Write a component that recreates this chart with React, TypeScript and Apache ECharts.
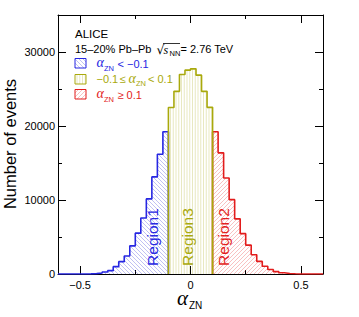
import React, { useEffect, useRef } from 'react';
import * as echarts from 'echarts';

// ---- data ----
const BIN_WIDTH = 0.025;
const region1Start = -0.6;
const region1Values = [0, 0, 2, 5, 10, 20, 45, 135, 270, 450, 990, 1670, 2440, 3800, 5520, 7560, 10150, 13120, 16190, 19220];
const region3Start = -0.1;
const region3Values = [22500, 24680, 26950, 27550, 27720, 26870, 24680, 22520];
const region2Start = 0.1;
const region2Values = [19220, 16370, 12980, 10050, 7450, 5450, 3900, 2600, 1700, 1050, 600, 320, 160, 70, 30, 10, 4, 0, 0, 0];

const xMajorTicks = [-0.5, 0, 0.5];
const xMinorTicks = [-0.25, 0.25];
const yMajorTicks = [0, 10000, 20000, 30000];
const yMinorTicks = [5000, 15000, 25000];

// ---- style ----
const FONT = '"Liberation Sans", Arial, Helvetica, sans-serif';
const SERIF = '"Liberation Serif", "Times New Roman", serif';
const BLUE = '#2626e2';
const OLIVE = '#a9a90c';
const RED = '#e21c1c';
const BLUE_HATCH = 'rgba(70,70,220,0.38)';
const OLIVE_HATCH = 'rgba(175,175,40,0.32)';
const RED_HATCH = 'rgba(235,70,70,0.38)';

type Kind = 'back' | 'fwd' | 'vert';

function hatchLines(x0: number, y0: number, x1: number, y1: number, kind: Kind, color: string): any[] {
  const out: any[] = [];
  const style = { stroke: color, lineWidth: 0.9 };
  if (y1 - y0 < 0.5 || x1 - x0 < 0.5) return out;
  if (kind === 'vert') {
    const s = 2.75;
    for (let x = Math.ceil(x0 / s) * s; x <= x1; x += s) {
      out.push({ type: 'line', shape: { x1: x, y1: y0, x2: x, y2: y1 }, style });
    }
  } else if (kind === 'fwd') {
    const s = 4;
    for (let c = Math.ceil((x0 + y0) / s) * s; c <= x1 + y1; c += s) {
      const xa = Math.max(x0, c - y1);
      const xb = Math.min(x1, c - y0);
      if (xb > xa) out.push({ type: 'line', shape: { x1: xa, y1: c - xa, x2: xb, y2: c - xb }, style });
    }
  } else {
    const s = 4;
    for (let c = Math.ceil((y0 - x1) / s) * s; c <= y1 - x0; c += s) {
      const xa = Math.max(x0, y0 - c);
      const xb = Math.min(x1, y1 - c);
      if (xb > xa) out.push({ type: 'line', shape: { x1: xa, y1: xa + c, x2: xb, y2: xb + c }, style });
    }
  }
  return out;
}

function binData(start: number, values: number[]) {
  return values.map((v, i) => [start + i * BIN_WIDTH, start + (i + 1) * BIN_WIDTH, v]);
}

function outline(start: number, values: number[]) {
  const pts: number[][] = [[start, 0]];
  values.forEach((v, i) => {
    pts.push([start + i * BIN_WIDTH, v], [start + (i + 1) * BIN_WIDTH, v]);
  });
  pts.push([start + values.length * BIN_WIDTH, 0]);
  return pts;
}

function hatchSeries(start: number, values: number[], kind: Kind, color: string) {
  return {
    type: 'custom',
    xAxisIndex: 0,
    yAxisIndex: 0,
    silent: true,
    z: 2,
    data: binData(start, values),
    encode: { x: [0, 1], y: 2 },
    renderItem: (_p: any, api: any) => {
      const a = api.coord([api.value(0), api.value(2)]);
      const b = api.coord([api.value(1), 0]);
      return { type: 'group', children: hatchLines(a[0], a[1], b[0], b[1], kind, color) };
    },
  };
}

function outlineSeries(start: number, values: number[], color: string, z: number) {
  return {
    type: 'line',
    xAxisIndex: 0,
    yAxisIndex: 0,
    silent: true,
    symbol: 'none',
    z,
    data: outline(start, values),
    lineStyle: { color, width: 1.6 },
  };
}

const xFmt = (v: number) => (v < 0 ? '\u2212' + Math.abs(v) : String(v));
const yFmt = (v: number) => String(v);

function legendBox(y: number, kind: Kind, stroke: string, hatch: string) {
  const x = 75, w = 11, h = 9.5;
  return {
    type: 'group',
    children: [
      ...hatchLines(x, y, x + w, y + h, kind, hatch),
      { type: 'rect', shape: { x, y, width: w, height: h }, style: { fill: 'none', stroke, lineWidth: 1 } },
    ],
  };
}

function txt(x: number, y: number, text: string, size: number, color: string, opts: any = {}) {
  return {
    type: 'text',
    x,
    y,
    rotation: opts.rotation || 0,
    style: {
      text,
      fill: color,
      fontSize: size,
      fontFamily: opts.family || FONT,
      fontStyle: opts.italic ? 'italic' : 'normal',
      align: opts.align || 'left',
      verticalAlign: 'middle',
    },
  };
}

function baseX(position: string, ticks: number[], len: number, line: boolean, labels: boolean) {
  return {
    type: 'value',
    min: -0.6,
    max: 0.6,
    position,
    axisLine: { show: line, onZero: false, lineStyle: { color: '#000', width: 1 } },
    axisTick: { show: true, inside: true, length: len, customValues: ticks, lineStyle: { color: '#000', width: 1 } },
    axisLabel: labels
      ? { show: true, customValues: ticks, formatter: xFmt, margin: 5, fontSize: 11, color: '#000', fontFamily: FONT }
      : { show: false },
    splitLine: { show: false },
  };
}

function baseY(position: string, ticks: number[], len: number, line: boolean, labels: boolean) {
  return {
    type: 'value',
    min: 0,
    max: 35000,
    position,
    axisLine: { show: line, onZero: false, lineStyle: { color: '#000', width: 1 } },
    axisTick: { show: true, inside: true, length: len, customValues: ticks, lineStyle: { color: '#000', width: 1 } },
    axisLabel: labels
      ? { show: true, customValues: ticks, formatter: yFmt, margin: 3, fontSize: 11, color: '#000', fontFamily: FONT }
      : { show: false },
    splitLine: { show: false },
  };
}

const option: any = {
  animation: false,
  backgroundColor: '#fff',
  grid: { left: 58, right: 36, top: 15, bottom: 43, containLabel: false },
  xAxis: [
    baseX('bottom', xMajorTicks, 8, true, true),
    baseX('bottom', xMinorTicks, 4, false, false),
    baseX('top', xMajorTicks, 8, true, false),
    baseX('top', xMinorTicks, 4, false, false),
  ],
  yAxis: [
    baseY('left', yMajorTicks, 8, true, true),
    baseY('left', yMinorTicks, 4, false, false),
    baseY('right', yMajorTicks, 8, true, false),
    baseY('right', yMinorTicks, 4, false, false),
  ],
  series: [
    hatchSeries(region1Start, region1Values, 'back', BLUE_HATCH),
    hatchSeries(region2Start, region2Values, 'fwd', RED_HATCH),
    hatchSeries(region3Start, region3Values, 'vert', OLIVE_HATCH),
    outlineSeries(region1Start, region1Values, BLUE, 3),
    outlineSeries(region2Start, region2Values, RED, 3),
    outlineSeries(region3Start, region3Values, OLIVE, 4),
  ],
  graphic: [
    // axis titles
    txt(9.5, 144, 'Number of events', 16.5, '#000', { rotation: Math.PI / 2, align: 'center' }),
    txt(177, 297.5, '\u03b1', 21, '#000', { family: SERIF, italic: true }),
    txt(189, 305.5, 'ZN', 10, '#000'),
    // header
    txt(75, 34, 'ALICE', 11.5, '#000'),
    txt(75, 49, '15\u201320% Pb\u2013Pb', 11, '#000'),
    txt(156.5, 49.5, '\u221a', 12.5, '#000', { family: '"DejaVu Sans", sans-serif' }),
    { type: 'line', shape: { x1: 163, y1: 43.5, x2: 180, y2: 43.5 }, style: { stroke: '#000', lineWidth: 0.8 } },
    txt(163.5, 49.5, 's', 12, '#000', { family: SERIF, italic: true }),
    txt(169.5, 53.5, 'NN', 7.5, '#000'),
    txt(180.5, 49, '= 2.76 TeV', 11, '#000'),
    // legend
    legendBox(58.5, 'back', BLUE, BLUE_HATCH),
    legendBox(74.5, 'vert', OLIVE, OLIVE_HATCH),
    legendBox(89.5, 'fwd', RED, RED_HATCH),
    txt(96.5, 62.5, '\u03b1', 14, BLUE, { family: SERIF, italic: true }),
    txt(104, 68, 'ZN', 7.5, BLUE),
    txt(117.5, 63.5, '< \u22120.1', 11, BLUE),
    txt(96.5, 79, '\u22120.1', 11, OLIVE),
    txt(119.5, 79, '\u2264', 11, OLIVE),
    txt(128.5, 78, '\u03b1', 14, OLIVE, { family: SERIF, italic: true }),
    txt(136, 83.5, 'ZN', 7.5, OLIVE),
    txt(148, 79, '< 0.1', 11, OLIVE),
    txt(96.5, 93.5, '\u03b1', 14, RED, { family: SERIF, italic: true }),
    txt(104, 99, 'ZN', 7.5, RED),
    txt(117.5, 94.5, '\u2265 0.1', 11, RED),
    // region labels
    txt(152.5, 237, 'Region1', 15.5, BLUE, { rotation: Math.PI / 2, align: 'center' }),
    txt(187.5, 237, 'Region3', 15.5, OLIVE, { rotation: Math.PI / 2, align: 'center' }),
    txt(223.5, 237, 'Region2', 15.5, RED, { rotation: Math.PI / 2, align: 'center' }),
  ],
};

export default function App() {
  const ref = useRef<HTMLDivElement>(null);
  useEffect(() => {
    const chart = echarts.init(ref.current as HTMLDivElement, null, { renderer: 'svg' });
    chart.setOption(option);
    return () => chart.dispose();
  }, []);
  return (
    <div
      ref={ref}
      style={{ position: 'fixed', left: 0, top: 0, width: 359, height: 317, background: '#fff' }}
    />
  );
}
